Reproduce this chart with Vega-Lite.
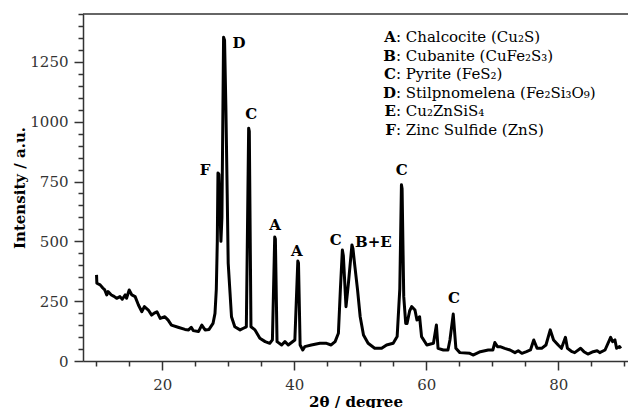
{
  "$schema": "https://vega.github.io/schema/vega-lite/v6.json",
  "width": 545,
  "height": 347,
  "autosize": {"type": "none"},
  "padding": {"left": 83, "top": 14, "right": 0, "bottom": 47},
  "background": "white",
  "config": {"view": {"stroke": null}, "font": "DejaVu Serif"},
  "datasets": {
    "xrd": [
      {"t": 10.05, "i": 360}, {"t": 10.1, "i": 325}, {"t": 10.6, "i": 318}, {"t": 11.0, "i": 305},
      {"t": 11.3, "i": 297}, {"t": 11.6, "i": 276}, {"t": 11.8, "i": 290}, {"t": 12.3, "i": 276},
      {"t": 12.7, "i": 270}, {"t": 13.1, "i": 262}, {"t": 13.6, "i": 269}, {"t": 13.95, "i": 258},
      {"t": 14.4, "i": 276}, {"t": 14.6, "i": 262}, {"t": 15.0, "i": 297}, {"t": 15.4, "i": 276},
      {"t": 15.9, "i": 269}, {"t": 16.4, "i": 234}, {"t": 16.9, "i": 206}, {"t": 17.3, "i": 227},
      {"t": 17.9, "i": 213}, {"t": 18.4, "i": 192}, {"t": 18.8, "i": 200}, {"t": 19.2, "i": 206},
      {"t": 19.7, "i": 178}, {"t": 20.4, "i": 185}, {"t": 20.9, "i": 171}, {"t": 21.4, "i": 150},
      {"t": 22.4, "i": 141}, {"t": 23.45, "i": 132}, {"t": 24.0, "i": 130}, {"t": 24.4, "i": 141},
      {"t": 24.7, "i": 127}, {"t": 25.5, "i": 123}, {"t": 26.0, "i": 150}, {"t": 26.5, "i": 130},
      {"t": 27.1, "i": 132}, {"t": 27.7, "i": 157}, {"t": 28.0, "i": 199}, {"t": 28.2, "i": 300},
      {"t": 28.35, "i": 500}, {"t": 28.45, "i": 786}, {"t": 28.6, "i": 780}, {"t": 28.9, "i": 500},
      {"t": 29.05, "i": 600}, {"t": 29.3, "i": 1353}, {"t": 29.45, "i": 1340}, {"t": 29.65, "i": 1060},
      {"t": 29.85, "i": 700}, {"t": 30.0, "i": 409}, {"t": 30.5, "i": 185}, {"t": 31.0, "i": 143},
      {"t": 31.8, "i": 130}, {"t": 32.3, "i": 137}, {"t": 32.75, "i": 143}, {"t": 33.1, "i": 973},
      {"t": 33.2, "i": 960}, {"t": 33.45, "i": 143}, {"t": 34.06, "i": 130}, {"t": 34.8, "i": 95},
      {"t": 35.6, "i": 81}, {"t": 36.3, "i": 74}, {"t": 36.7, "i": 88}, {"t": 37.05, "i": 518},
      {"t": 37.15, "i": 510}, {"t": 37.4, "i": 81}, {"t": 38.1, "i": 67}, {"t": 38.6, "i": 81},
      {"t": 39.1, "i": 67}, {"t": 40.1, "i": 88}, {"t": 40.55, "i": 418}, {"t": 40.65, "i": 410},
      {"t": 40.9, "i": 67}, {"t": 41.3, "i": 46}, {"t": 41.6, "i": 60}, {"t": 42.6, "i": 67},
      {"t": 43.9, "i": 74}, {"t": 44.9, "i": 74}, {"t": 45.6, "i": 67}, {"t": 46.2, "i": 81},
      {"t": 46.7, "i": 116}, {"t": 47.0, "i": 300}, {"t": 47.3, "i": 464}, {"t": 47.45, "i": 440},
      {"t": 47.85, "i": 227}, {"t": 48.2, "i": 320}, {"t": 48.75, "i": 485}, {"t": 48.9, "i": 470},
      {"t": 49.2, "i": 394}, {"t": 49.6, "i": 297}, {"t": 50.0, "i": 185}, {"t": 50.5, "i": 109},
      {"t": 51.2, "i": 74}, {"t": 52.2, "i": 53}, {"t": 53.25, "i": 53}, {"t": 54.0, "i": 67},
      {"t": 55.0, "i": 74}, {"t": 55.6, "i": 102}, {"t": 56.0, "i": 300}, {"t": 56.25, "i": 736},
      {"t": 56.35, "i": 720}, {"t": 56.6, "i": 269}, {"t": 56.9, "i": 157}, {"t": 57.1, "i": 157},
      {"t": 57.5, "i": 210}, {"t": 57.8, "i": 227}, {"t": 58.3, "i": 213}, {"t": 58.6, "i": 171},
      {"t": 59.0, "i": 185}, {"t": 59.3, "i": 102}, {"t": 60.1, "i": 67}, {"t": 61.1, "i": 74},
      {"t": 61.55, "i": 150}, {"t": 61.8, "i": 53}, {"t": 62.6, "i": 46}, {"t": 63.3, "i": 46},
      {"t": 63.6, "i": 88}, {"t": 64.1, "i": 196}, {"t": 64.5, "i": 53}, {"t": 65.1, "i": 35},
      {"t": 66.6, "i": 32}, {"t": 67.1, "i": 25}, {"t": 68.2, "i": 39}, {"t": 69.4, "i": 46},
      {"t": 70.1, "i": 46}, {"t": 70.4, "i": 77}, {"t": 70.8, "i": 60}, {"t": 71.2, "i": 60},
      {"t": 71.9, "i": 53}, {"t": 72.7, "i": 46}, {"t": 73.45, "i": 35}, {"t": 73.95, "i": 43},
      {"t": 74.5, "i": 32}, {"t": 75.2, "i": 39}, {"t": 75.8, "i": 46}, {"t": 76.3, "i": 88},
      {"t": 76.8, "i": 53}, {"t": 77.5, "i": 53}, {"t": 78.15, "i": 67}, {"t": 78.8, "i": 130},
      {"t": 79.3, "i": 88}, {"t": 80.0, "i": 67}, {"t": 80.5, "i": 53}, {"t": 81.1, "i": 99},
      {"t": 81.4, "i": 53}, {"t": 82.1, "i": 39}, {"t": 82.5, "i": 35}, {"t": 83.4, "i": 53},
      {"t": 83.9, "i": 39}, {"t": 84.5, "i": 29}, {"t": 85.3, "i": 39}, {"t": 85.9, "i": 43},
      {"t": 86.3, "i": 35}, {"t": 87.1, "i": 46}, {"t": 87.95, "i": 99}, {"t": 88.25, "i": 81},
      {"t": 88.6, "i": 88}, {"t": 88.85, "i": 53}, {"t": 89.3, "i": 60}, {"t": 89.5, "i": 53}
    ],
    "peaks": [
      {"t": 26.5, "i": 798, "label": "F"},
      {"t": 31.64, "i": 1329, "label": "D"},
      {"t": 33.5, "i": 1032, "label": "C"},
      {"t": 37.1, "i": 568, "label": "A"},
      {"t": 40.4, "i": 458, "label": "A"},
      {"t": 46.3, "i": 506, "label": "C"},
      {"t": 52.0, "i": 499, "label": "B+E"},
      {"t": 56.3, "i": 798, "label": "C"},
      {"t": 64.2, "i": 263, "label": "C"}
    ],
    "phases": [
      {"key": "A", "desc": ": Chalcocite (Cu₂S)"},
      {"key": "B", "desc": ": Cubanite (CuFe₂S₃)"},
      {"key": "C", "desc": ": Pyrite (FeS₂)"},
      {"key": "D", "desc": ": Stilpnomelena (Fe₂Si₃O₉)"},
      {"key": "E", "desc": ": Cu₂ZnSiS₄"},
      {"key": "F", "desc": ": Zinc Sulfide (ZnS)"}
    ]
  },
  "layer": [
    {
      "layer": [
        {
          "data": {"name": "xrd"},
          "mark": {"type": "line", "color": "black", "strokeWidth": 3, "strokeJoin": "round"},
          "encoding": {
            "x": {
              "field": "t", "type": "quantitative",
              "scale": {"domain": [8, 90.58], "nice": false, "zero": false},
              "axis": {
                "orient": "bottom",
                "values": [20, 40, 60, 80],
                "format": "d",
                "tickSize": 9,
                "labelFont": "DejaVu Serif", "labelFontSize": 15, "labelColor": "#333",
                "labelPadding": 7,
                "domainColor": "#333", "domainWidth": 1.5, "tickColor": "#333", "tickWidth": 1.5,
                "grid": false,
                "title": "2θ / degree", "titleFont": "DejaVu Serif", "titleFontSize": 15,
                "titleFontWeight": "bold", "titleColor": "black", "titlePadding": 2
              }
            },
            "y": {
              "field": "i", "type": "quantitative",
              "scale": {"domain": [0, 1450], "nice": false},
              "axis": {
                "orient": "left",
                "values": [0, 250, 500, 750, 1000, 1250],
                "format": "d",
                "tickSize": 9,
                "labelFont": "DejaVu Serif", "labelFontSize": 15, "labelColor": "#333",
                "labelPadding": 6,
                "domainColor": "#333", "domainWidth": 1.5, "tickColor": "#333", "tickWidth": 1.5,
                "grid": false,
                "title": "Intensity / a.u.", "titleFont": "DejaVu Serif", "titleFontSize": 15,
                "titleFontWeight": "bold", "titleColor": "black", "titlePadding": 2
              }
            }
          }
        },
        {
          "data": {"name": "peaks"},
          "mark": {"type": "text", "font": "DejaVu Serif", "fontSize": 15, "fontWeight": "bold", "color": "black", "baseline": "middle", "align": "center"},
          "encoding": {
            "x": {
              "field": "t", "type": "quantitative",
              "axis": {
                "orient": "bottom",
                "values": [10, 15, 25, 30, 35, 45, 50, 55, 65, 70, 75, 85, 90],
                "labels": false, "domain": false, "grid": false, "title": null,
                "tickSize": 5, "tickColor": "#333", "tickWidth": 1.5
              }
            },
            "y": {
              "field": "i", "type": "quantitative",
              "axis": {
                "orient": "left",
                "values": [50, 100, 150, 200, 300, 350, 400, 450, 550, 600, 650, 700, 800, 850, 900, 950, 1050, 1100, 1150, 1200, 1300, 1350, 1400, 1450],
                "labels": false, "domain": false, "grid": false, "title": null,
                "tickSize": 5, "tickColor": "#333", "tickWidth": 1.5
              }
            },
            "text": {"field": "label"}
          }
        },
        {
          "data": {"values": [{}]},
          "mark": {"type": "rule", "color": "#333", "strokeWidth": 1.5},
          "encoding": {"y": {"datum": 1450, "type": "quantitative", "axis": null}}
        }
      ],
      "resolve": {"axis": {"x": "independent", "y": "independent"}}
    },
    {
      "data": {"name": "phases"},
      "encoding": {
        "x": {"datum": 55.42, "type": "quantitative", "axis": null},
        "y": {
          "field": "key", "type": "ordinal",
          "scale": {"type": "point", "domain": ["A", "B", "C", "D", "E", "F"], "range": [23, 116], "padding": 0},
          "axis": null
        }
      },
      "layer": [
        {
          "mark": {"type": "text", "font": "DejaVu Serif", "fontSize": 15, "fontWeight": "bold", "color": "black", "align": "right", "baseline": "middle"},
          "encoding": {"text": {"field": "key"}}
        },
        {
          "mark": {"type": "text", "font": "DejaVu Serif", "fontSize": 15, "color": "black", "align": "left", "baseline": "middle"},
          "encoding": {"text": {"field": "desc"}}
        }
      ]
    }
  ],
  "resolve": {"scale": {"y": "independent"}, "axis": {"x": "independent", "y": "independent"}}
}
